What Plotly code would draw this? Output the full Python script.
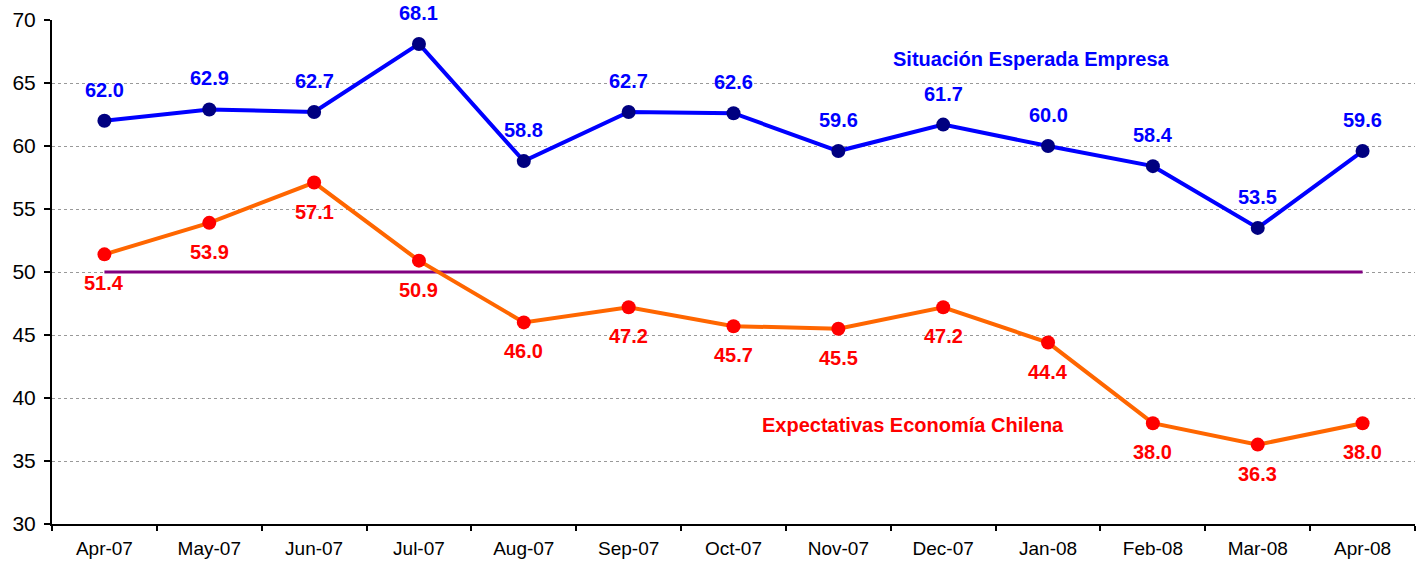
import plotly.graph_objects as go

months = ["Apr-07", "May-07", "Jun-07", "Jul-07", "Aug-07", "Sep-07", "Oct-07",
          "Nov-07", "Dec-07", "Jan-08", "Feb-08", "Mar-08", "Apr-08"]
empresa = [62.0, 62.9, 62.7, 68.1, 58.8, 62.7, 62.6, 59.6, 61.7, 60.0, 58.4, 53.5, 59.6]
economia = [51.4, 53.9, 57.1, 50.9, 46.0, 47.2, 45.7, 45.5, 47.2, 44.4, 38.0, 36.3, 38.0]
threshold = 50

FONT = "Liberation Sans, Arial, sans-serif"

fig = go.Figure()

fig.add_trace(go.Scatter(
    x=[months[0], months[-1]], y=[threshold, threshold], mode="lines",
    line=dict(color="#800080", width=3), hoverinfo="skip", showlegend=False))

fig.add_trace(go.Scatter(
    x=months, y=empresa, mode="lines+markers", name="Situación Esperada Empresa",
    line=dict(color="#0000FF", width=4),
    marker=dict(color="#000080", size=14, symbol="circle"),
    showlegend=False, cliponaxis=False))

fig.add_trace(go.Scatter(
    x=months, y=economia, mode="lines+markers", name="Expectativas Economía Chilena",
    line=dict(color="#FF6600", width=4),
    marker=dict(color="#FF0000", size=14, symbol="circle"),
    showlegend=False, cliponaxis=False))

for m, v in zip(months, empresa):
    fig.add_annotation(x=m, y=v, text=f"<b>{v:.1f}</b>", showarrow=False, yshift=31,
                       font=dict(family=FONT, size=20, color="#0000FF"))
for m, v in zip(months, economia):
    fig.add_annotation(x=m, y=v, text=f"<b>{v:.1f}</b>", showarrow=False, yshift=-29,
                       font=dict(family=FONT, size=20, color="#FF0000"))

L, R, T, B = 52, 3, 20, 37
W, H = 1418, 561
pw, ph = W - L - R, H - T - B


def px2paper(x, y):
    return (x - L) / pw, 1 - (y - T) / ph


x1, y1 = px2paper(1172, 46)
fig.add_annotation(x=x1, y=y1, xref="paper", yref="paper", text="<b>Situación Esperada Empresa</b>",
                   showarrow=False, font=dict(family=FONT, size=20, color="#0000FF"))
x2, y2 = px2paper(913, 438)
fig.add_annotation(x=x2, y=y2, xref="paper", yref="paper", text="<b>Expectativas Economía Chilena</b>",
                   showarrow=False, font=dict(family=FONT, size=20, color="#FF0000"))

fig.update_layout(
    width=W, height=H,
    margin=dict(l=L, r=R, t=T, b=B, autoexpand=False),
    plot_bgcolor="white", paper_bgcolor="white",
    font=dict(family=FONT, size=19, color="black"),
    showlegend=False,
)
fig.update_xaxes(
    type="category", categoryorder="array", categoryarray=months,
    range=[-0.5, 12.5], tickson="boundaries", automargin=False,
    showline=True, linecolor="black", linewidth=2,
    ticks="outside", ticklen=5, tickwidth=2, tickcolor="black",
    showgrid=False, tickfont=dict(size=19), ticklabelstandoff=6,
)
fig.update_yaxes(
    range=[30, 70], tickvals=[30, 35, 40, 45, 50, 55, 60, 65, 70], automargin=False,
    showline=True, linecolor="black", linewidth=2,
    ticks="outside", ticklen=6, tickwidth=2, tickcolor="black",
    showgrid=True, gridcolor="#999999", gridwidth=1, griddash="dot",
    zeroline=False, tickfont=dict(size=21), ticklabelstandoff=4,
)

fig.write_html("out.html", config={"displayModeBar": False},
               post_script="document.body.style.margin='0';document.body.style.overflow='hidden';")
